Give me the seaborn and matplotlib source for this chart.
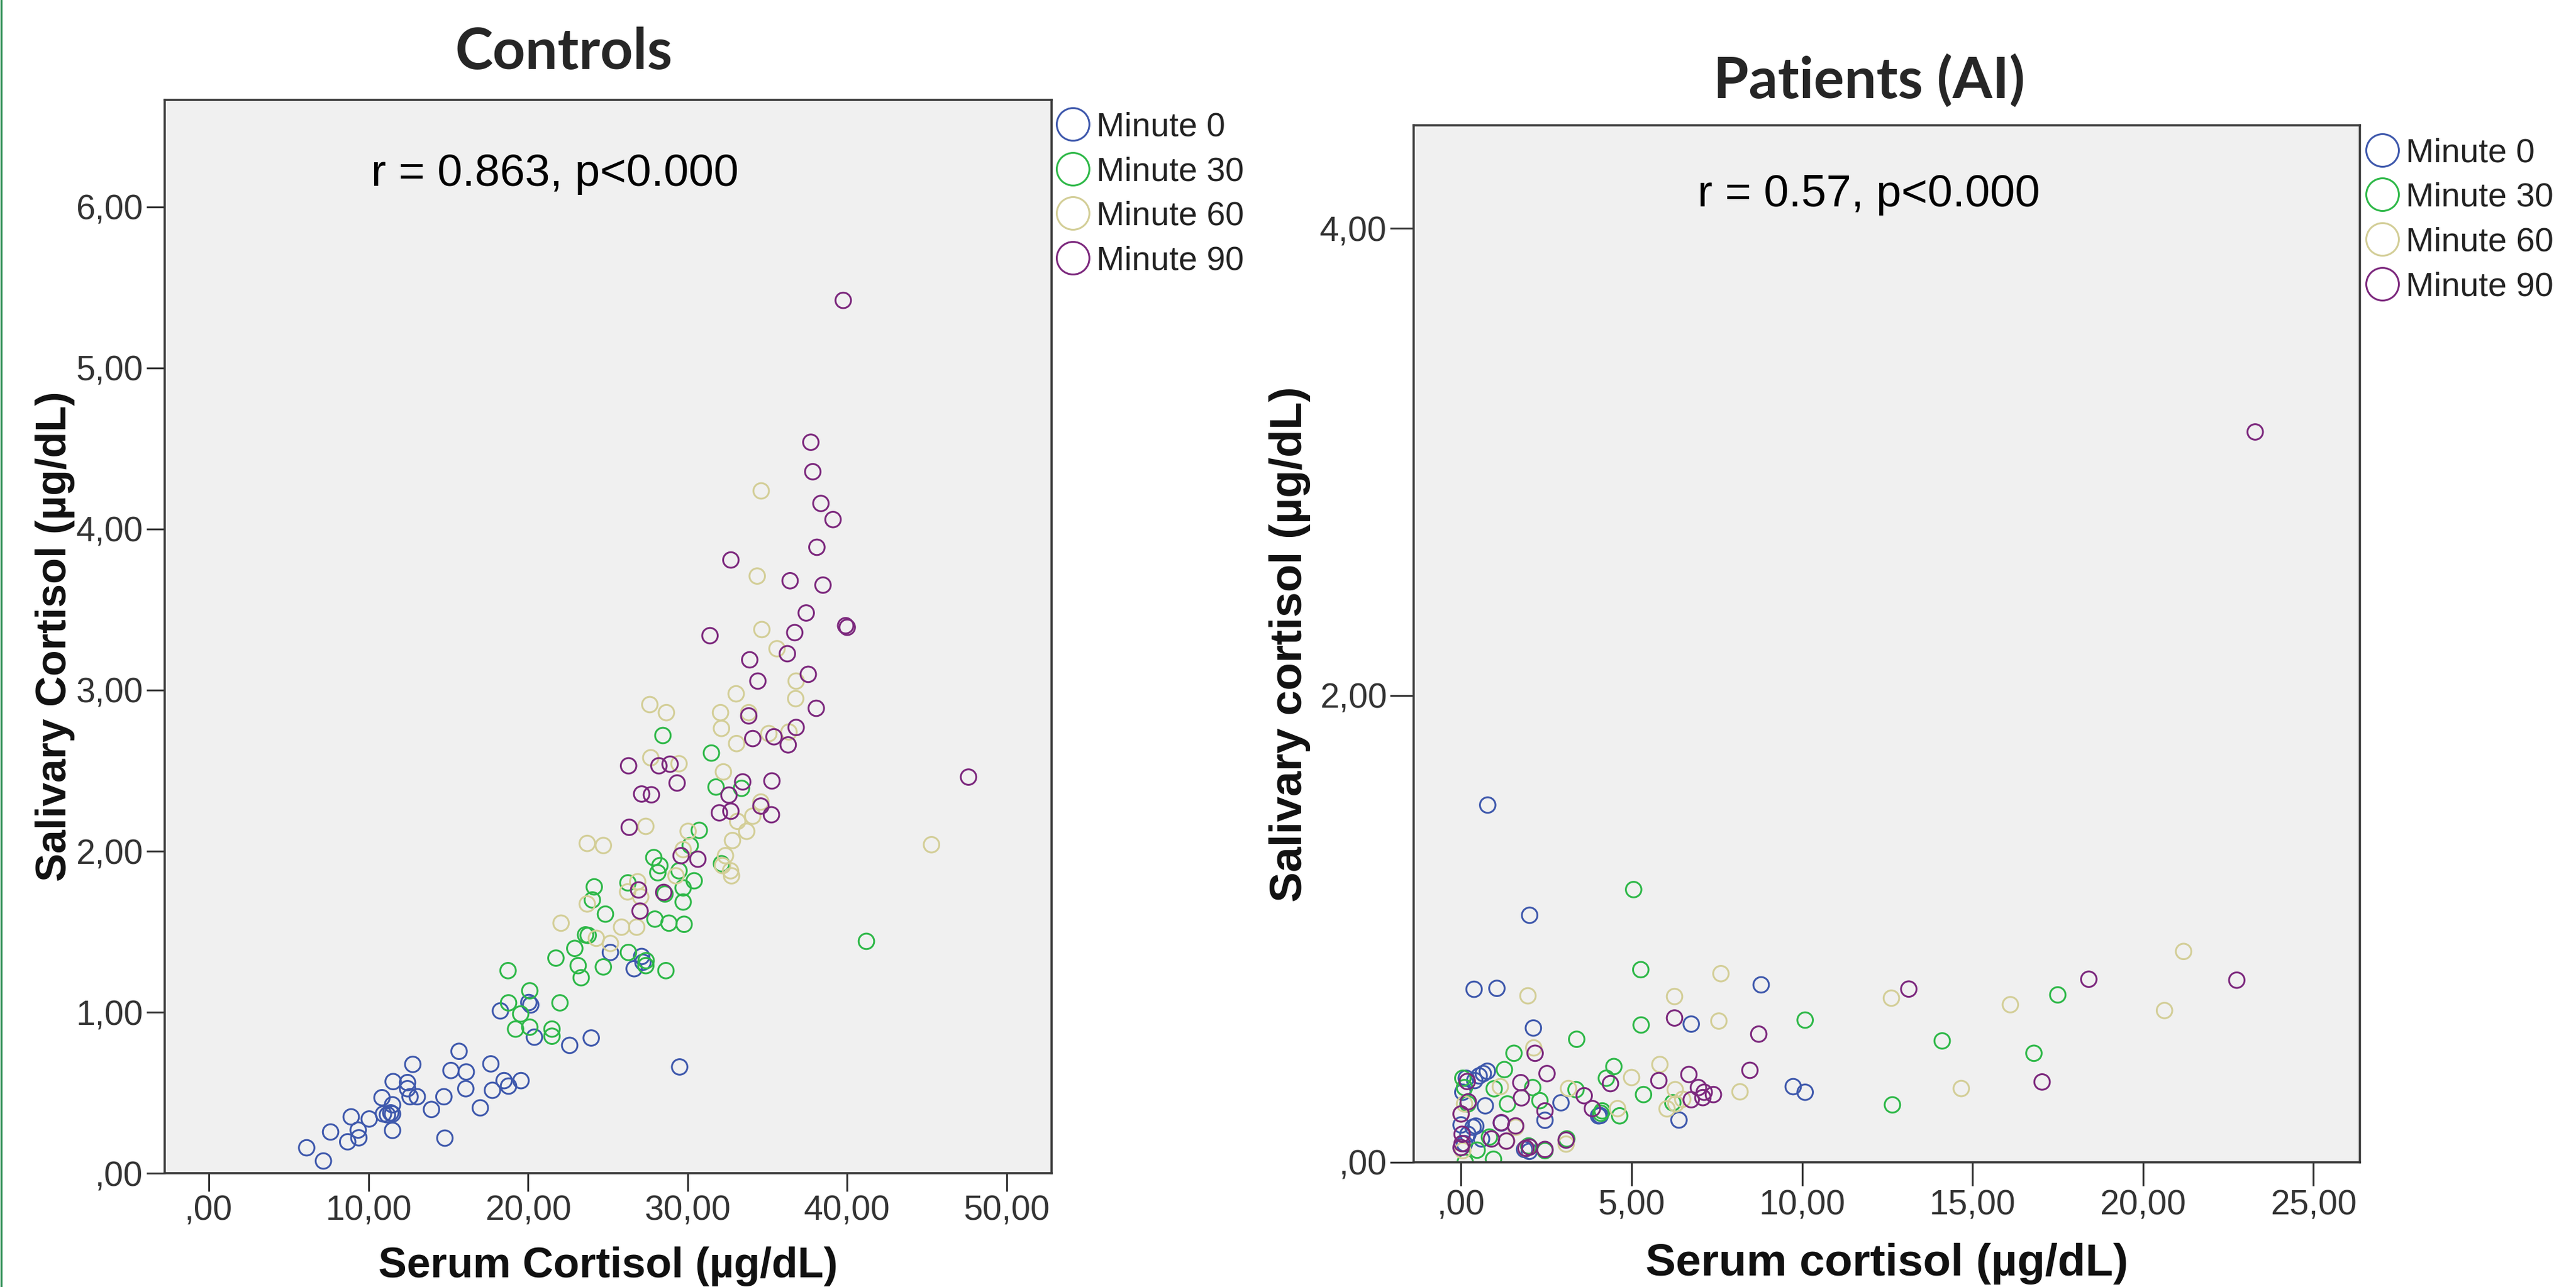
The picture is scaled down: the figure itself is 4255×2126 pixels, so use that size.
import pandas as pd
import matplotlib.pyplot as plt
import numpy as np
import seaborn as sns
from matplotlib.lines import Line2D
from matplotlib.ticker import FixedLocator, FixedFormatter


GROUPS = ["Minute 0", "Minute 30", "Minute 60", "Minute 90"]
COLORS = ["#3E58AC", "#2EB848", "#D3CE97", "#7C287D"]

## Controls: serum (x) and salivary (y) cortisol, ug/dL
ctrl_m0_serum = [6.13, 7.18, 7.63, 8.70, 8.92, 9.36, 9.40, 10.05, 10.85, 10.94, 11.19, 11.40,
                 11.51, 11.51, 11.51, 11.55, 12.45, 12.45, 12.61, 13.06, 12.78, 13.95, 14.73,
                 14.79, 15.17, 15.68, 16.13, 16.10, 17.01, 17.67, 17.77, 18.50, 18.78, 19.56,
                 18.27, 20.17, 20.05, 20.40, 22.61, 23.96, 29.50, 25.16, 27.12, 26.65, 27.20]
ctrl_m0_saliva = [0.158, 0.076, 0.256, 0.195, 0.350, 0.268, 0.220, 0.337, 0.469, 0.368, 0.363, 0.375,
                  0.425, 0.266, 0.368, 0.569, 0.563, 0.525, 0.475, 0.475, 0.676, 0.396, 0.475,
                  0.218, 0.638, 0.757, 0.629, 0.525, 0.406, 0.679, 0.515, 0.575, 0.541, 0.575,
                  1.008, 1.045, 1.060, 0.845, 0.794, 0.840, 0.660, 1.371, 1.346, 1.270, 1.310]

ctrl_m30_serum = [28.45, 31.49, 31.78, 33.38, 30.73, 30.16, 27.88, 28.26, 28.13, 29.46, 30.41,
                  29.72, 29.72, 28.58, 26.26, 24.15, 24.03, 24.85, 27.95, 28.83, 29.78, 32.12,
                  23.77, 23.60, 22.93, 21.75, 23.14, 23.33, 24.72, 26.29, 27.38, 27.40, 28.64,
                  18.75, 20.11, 18.78, 22.00, 19.54, 19.22, 20.11, 21.50, 21.50, 41.20]
ctrl_m30_saliva = [2.718, 2.609, 2.398, 2.390, 2.129, 2.035, 1.960, 1.910, 1.866, 1.878, 1.816,
                   1.772, 1.684, 1.734, 1.803, 1.778, 1.697, 1.609, 1.578, 1.553, 1.546, 1.922,
                   1.477, 1.480, 1.396, 1.336, 1.289, 1.214, 1.281, 1.371, 1.289, 1.320, 1.258,
                   1.258, 1.133, 1.058, 1.058, 0.989, 0.895, 0.907, 0.895, 0.851, 1.440]

ctrl_m60_serum = [32.12, 33.07, 35.09, 27.69, 29.46, 32.24, 27.38, 23.71, 24.72, 30.03, 29.72,
                  33.13, 34.08, 33.70, 32.81, 32.37, 32.19, 32.69, 32.75, 34.59, 29.27, 26.87,
                  26.24, 27.06, 23.71, 22.07, 25.86, 26.81, 24.28, 25.16, 34.61, 34.36, 34.65,
                  35.60, 36.80, 36.77, 33.04, 27.63, 28.67, 32.06, 33.83, 36.35, 45.28]
ctrl_m60_saliva = [2.762, 2.668, 2.730, 2.580, 2.543, 2.492, 2.154, 2.048, 2.035, 2.123, 2.010,
                   2.185, 2.217, 2.123, 2.066, 1.972, 1.910, 1.878, 1.847, 2.305, 1.847, 1.810,
                   1.747, 1.716, 1.672, 1.553, 1.528, 1.528, 1.459, 1.427, 4.237, 3.708, 3.376,
                   3.257, 3.056, 2.947, 2.977, 2.910, 2.860, 2.860, 2.860, 2.740, 2.040]

ctrl_m90_serum = [37.72, 37.84, 38.35, 39.11, 38.10, 32.71, 36.42, 38.48, 37.43, 39.90, 40.00,
                  31.40, 36.71, 36.25, 33.89, 37.56, 34.40, 38.06, 33.83, 36.80, 36.30, 26.30,
                  28.20, 28.90, 29.34, 27.12, 27.73, 26.34, 34.08, 35.41, 33.45, 35.28, 32.59,
                  31.99, 32.71, 34.59, 35.25, 29.59, 30.64, 26.93, 28.50, 27.02, 39.75, 47.60]
ctrl_m90_saliva = [4.539, 4.356, 4.159, 4.059, 3.887, 3.808, 3.679, 3.652, 3.479, 3.400, 3.390,
                   3.338, 3.357, 3.226, 3.188, 3.098, 3.056, 2.887, 2.840, 2.768, 2.660, 2.530,
                   2.530, 2.540, 2.423, 2.355, 2.350, 2.148, 2.699, 2.710, 2.430, 2.436, 2.348,
                   2.238, 2.248, 2.280, 2.226, 1.972, 1.950, 1.759, 1.744, 1.628, 5.420, 2.460]

## Patients (AI)
pat_m0_serum = [0.78, 2.01, 0.38, 1.05, 2.12, 6.75, 8.80, 9.74, 10.09, 6.39, 4.08, 2.93, 2.46,
                4.03, 0.65, 0.53, 0.77, 0.15, 0.71, 1.18, 0.35, 1.86, 2.00, 0.10, 0.20, 0.05,
                0.40, 0.60, 0.43, 0.00]
pat_m0_saliva = [1.530, 1.058, 0.741, 0.745, 0.575, 0.592, 0.760, 0.324, 0.300, 0.181, 0.200,
                 0.255, 0.180, 0.199, 0.380, 0.370, 0.390, 0.360, 0.242, 0.168, 0.150, 0.055,
                 0.047, 0.080, 0.120, 0.300, 0.350, 0.100, 0.155, 0.160]

pat_m30_serum = [5.06, 5.27, 5.28, 10.09, 17.50, 14.11, 16.80, 12.65, 3.39, 1.55, 1.27, 4.48,
                 5.35, 4.65, 4.10, 0.97, 2.10, 1.36, 2.31, 6.21, 3.37, 4.14, 4.26, 0.83, 0.47,
                 1.98, 0.95, 0.12, 0.10, 0.05, 3.10, 2.46, 0.20]
pat_m30_saliva = [1.168, 0.825, 0.588, 0.609, 0.717, 0.520, 0.467, 0.246, 0.527, 0.467, 0.397,
                  0.410, 0.290, 0.199, 0.210, 0.315, 0.320, 0.250, 0.264, 0.255, 0.311, 0.220,
                  0.360, 0.108, 0.052, 0.070, 0.013, 0.000, 0.320, 0.360, 0.100, 0.050, 0.250]

pat_m60_serum = [1.96, 7.62, 6.26, 7.56, 21.19, 20.63, 16.11, 12.62, 14.67, 8.18, 5.83, 5.00,
                 6.28, 6.04, 6.30, 4.59, 1.15, 3.15, 0.00, 1.60, 1.33, 3.08, 6.50, 2.13, 0.10,
                 1.90, 0.05]
pat_m60_saliva = [0.713, 0.808, 0.710, 0.605, 0.903, 0.650, 0.675, 0.703, 0.316, 0.302, 0.419,
                  0.363, 0.311, 0.229, 0.250, 0.230, 0.324, 0.316, 0.207, 0.150, 0.090, 0.078,
                  0.270, 0.490, 0.250, 0.060, 0.050]

pat_m90_serum = [23.29, 22.75, 18.41, 13.13, 17.04, 8.47, 8.73, 6.26, 4.38, 5.80, 6.68, 6.96,
                 7.13, 7.40, 6.75, 7.09, 2.52, 1.75, 1.77, 2.17, 0.21, 0.00, 2.46, 3.61, 3.85,
                 1.18, 1.60, 0.89, 1.33, 0.03, 0.03, 0.00, 2.01, 2.46, 3.08, 0.18, 1.90]
pat_m90_saliva = [3.128, 0.780, 0.784, 0.742, 0.344, 0.394, 0.549, 0.618, 0.337, 0.350, 0.376,
                  0.320, 0.300, 0.290, 0.268, 0.277, 0.380, 0.341, 0.276, 0.467, 0.259, 0.207,
                  0.220, 0.285, 0.230, 0.170, 0.156, 0.100, 0.091, 0.120, 0.080, 0.063, 0.065,
                  0.055, 0.095, 0.346, 0.060]

## axis ticks and labels (SPSS style, comma decimals)
ctrl_xticks = [0, 10, 20, 30, 40, 50]
ctrl_xlabels = [",00", "10,00", "20,00", "30,00", "40,00", "50,00"]
ctrl_yticks = [0, 1, 2, 3, 4, 5, 6]
ctrl_ylabels = [",00", "1,00", "2,00", "3,00", "4,00", "5,00", "6,00"]
pat_xticks = [0, 5, 10, 15, 20, 25]
pat_xlabels = [",00", "5,00", "10,00", "15,00", "20,00", "25,00"]
pat_yticks = [0, 2, 4]
pat_ylabels = [",00", "2,00", "4,00"]


def make_frame(pairs):
    parts = []
    for grp, (xs, ys) in zip(GROUPS, pairs):
        parts.append(pd.DataFrame({"serum": xs, "saliva": ys, "time": grp}))
    return pd.concat(parts, ignore_index=True)


df_ctrl = make_frame([(ctrl_m0_serum, ctrl_m0_saliva), (ctrl_m30_serum, ctrl_m30_saliva),
                      (ctrl_m60_serum, ctrl_m60_saliva), (ctrl_m90_serum, ctrl_m90_saliva)])
df_pat = make_frame([(pat_m0_serum, pat_m0_saliva), (pat_m30_serum, pat_m30_saliva),
                     (pat_m60_serum, pat_m60_saliva), (pat_m90_serum, pat_m90_saliva)])

sns.set_style("white")
plt.rcParams["font.family"] = ["Liberation Sans", "DejaVu Sans"]

fig = plt.figure(figsize=(21.275, 10.63), dpi=200)
ax1 = fig.add_axes([0.0639, 0.0884, 0.3443, 0.834])
ax2 = fig.add_axes([0.5488, 0.0969, 0.3673, 0.8055])

TXT = "#333333"


def draw_panel(ax, df, xlim, ylim, xt, xl, yt, yl, ticklen, xlab, ylab, lab_size,
               xlab_y, ylab_x, note, note_xy, leg_anchor):
    sns.scatterplot(data=df, x="serum", y="saliva", hue="time", hue_order=GROUPS,
                    palette=COLORS, s=85, linewidth=1.1, legend=False, ax=ax)
    coll = ax.collections[-1]
    coll.set_edgecolors(coll.get_facecolors())
    coll.set_facecolors("none")

    ax.set_facecolor("#F0F0F0")
    ax.set_xlim(*xlim)
    ax.set_ylim(*ylim)
    ax.xaxis.set_major_locator(FixedLocator(xt))
    ax.xaxis.set_major_formatter(FixedFormatter(xl))
    ax.yaxis.set_major_locator(FixedLocator(yt))
    ax.yaxis.set_major_formatter(FixedFormatter(yl))
    ax.tick_params(direction="out", length=ticklen, width=1.1, color="#333333",
                   labelcolor=TXT, labelsize=20.5, pad=2, bottom=True, left=True)
    for sp in ax.spines.values():
        sp.set_visible(True)
        sp.set_color("#3a3a3a")
        sp.set_linewidth(1.3)

    ax.set_xlabel(xlab, fontsize=lab_size, fontweight="bold", color="#111111", va="center")
    ax.set_ylabel(ylab, fontsize=lab_size, fontweight="bold", color="#111111", va="center")
    ax.xaxis.set_label_coords(0.5, xlab_y)
    ax.yaxis.set_label_coords(ylab_x, 0.5)

    ax.text(note_xy[0], note_xy[1], note, transform=ax.transAxes, ha="center",
            va="center", fontsize=26.8, color="#000000")

    handles = [Line2D([], [], marker="o", ls="", mfc="none", mec=c, ms=19.4, mew=1.1)
               for c in COLORS]
    ax.legend(handles, GROUPS, loc="upper left", bbox_to_anchor=leg_anchor,
              frameon=False, fontsize=20, handlelength=1.0, handletextpad=0.2,
              labelspacing=0.39, borderpad=0, borderaxespad=0, labelcolor="#222222")


draw_panel(ax1, df_ctrl, (-2.77, 52.8), (0, 6.665), ctrl_xticks, ctrl_xlabels,
           ctrl_yticks, ctrl_ylabels, 10.8, "Serum Cortisol (µg/dL)",
           "Salivary Cortisol (µg/dL)", 25.3, -0.087, -0.1235,
           "r = 0.863, p<0.000", (0.4403, 0.9309), (1.0048, 0.989))
draw_panel(ax2, df_pat, (-1.39, 26.36), (0, 4.44), pat_xticks, pat_xlabels,
           pat_yticks, pat_ylabels, 14, "Serum cortisol (µg/dL)",
           "Salivary cortisol (µg/dL)", 27, -0.098, -0.131,
           "r = 0.57, p<0.000", (0.4812, 0.9337), (1.006, 0.9886))

fig.text(0.2188, 0.959, "Controls", ha="center", va="center", fontsize=34,
         fontweight="bold", family=["Lato", "DejaVu Sans"])
fig.text(0.7255, 0.9369, "Patients (AI)", ha="center", va="center", fontsize=34,
         fontweight="bold", family=["Lato", "DejaVu Sans"])

# thin green frame line on the left edge of the original slide
fig.add_artist(Line2D([0.0004, 0.0004], [0, 1], transform=fig.transFigure,
                      color="#2f8f55", lw=1.2))

fig.savefig("out.png", dpi=200, facecolor="white")
